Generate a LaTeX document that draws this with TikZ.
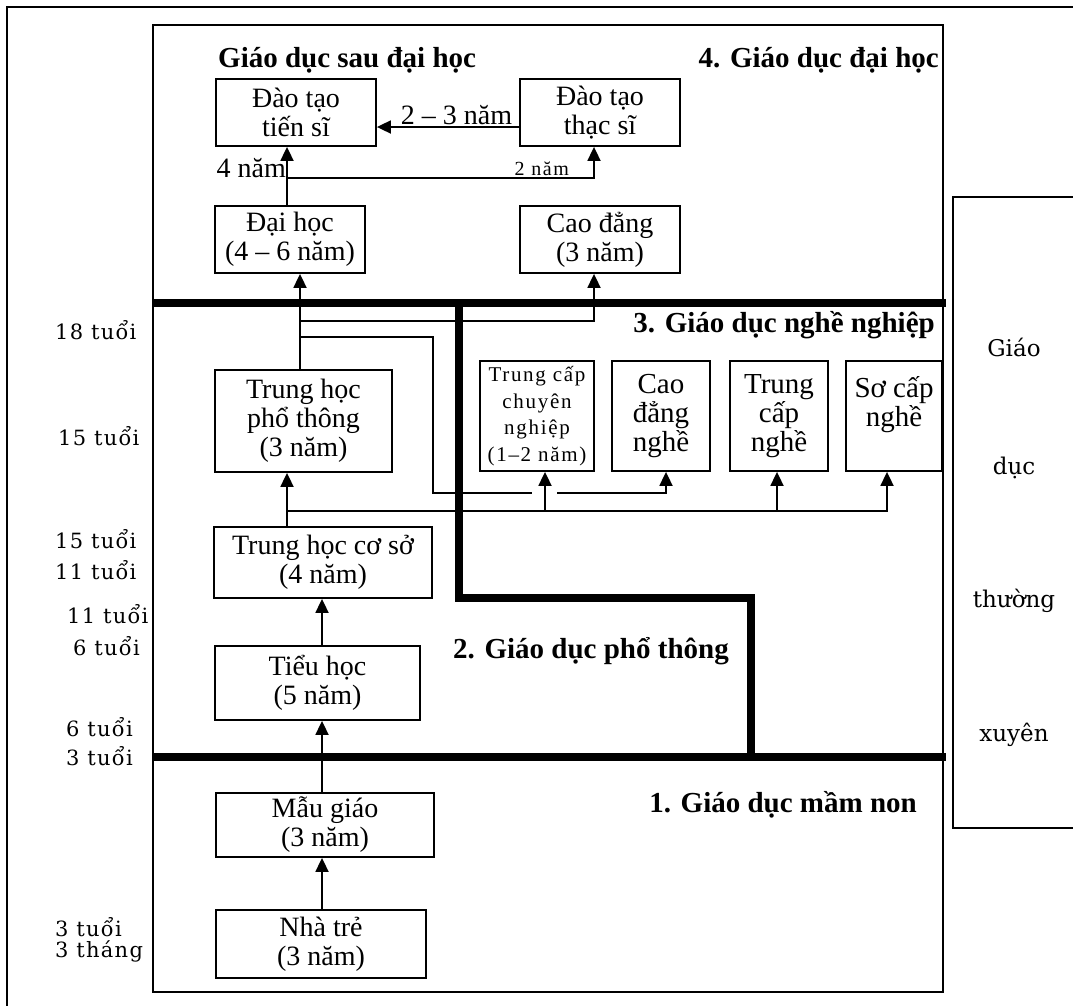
\documentclass[tikz,border=0pt]{standalone}
\usepackage{fontspec}
\setmainfont{Liberation Serif}
\newfontfamily\agefont{DejaVu Serif}[LetterSpace=6]
\newfontfamily\gdfont{DejaVu Serif}
\newfontfamily\spfont{Liberation Serif}[LetterSpace=8]
\usetikzlibrary{arrows.meta}
\begin{document}
\begin{tikzpicture}[x=1pt,y=-1pt,
  box/.style={draw, line width=1.8pt, inner sep=0pt, align=center, font=\fontsize{28}{29}\selectfont},
  vbox/.style={box, minimum height=110pt, font=\fontsize{29}{29}\selectfont},
  thin/.style={line width=1.8pt},
  arr/.style={line width=1.8pt, -{Triangle[length=14pt,width=13pt]}},
  thick/.style={line width=7.5pt, line join=miter},
  head/.style={inner sep=0pt, font=\bfseries\fontsize{29}{30}\selectfont},
  age/.style={inner sep=0pt, anchor=west, font=\agefont\fontsize{21}{22}\selectfont},
  gdtx/.style={inner sep=0pt, font=\gdfont\fontsize{23}{24}\selectfont},
  lbl/.style={inner sep=1pt, font=\fontsize{28}{29}\selectfont}]
\useasboundingbox (0,0) rectangle (1073,1005);
\clip (0,0) rectangle (1073,1005);
% frames
\draw[thin] (7,1010) -- (7,7) -- (1080,7);
\draw[thin] (153,25) rectangle (943,992);
\draw[thin] (1080,197) -- (953,197) -- (953,828) -- (1080,828);
% thick separators
\draw[thick] (153,303) -- (946,303);
\draw[thick] (153,757) -- (946,757);
\draw[thick] (459,303) -- (459,598) -- (751,598) -- (751,757);
% headings
\node[head, anchor=west] (hsdh) at (218,60) {Giáo dục sau đại học};
\node[head, anchor=east] (hdh) at (939,60) {4. Giáo dục đại học};
\node[head, anchor=east] (hnn) at (935,325) {3. Giáo dục nghề nghiệp};
\node[head, anchor=west] (hpt) at (453,651) {2. Giáo dục phổ thông};
\node[head, anchor=east] (hmn) at (917,805) {1. Giáo dục mầm non};
% boxes
\node[box, minimum width=160pt, minimum height=67pt] (tiensi) at (296,112.5) {Đào tạo\\tiến sĩ};
\node[box, minimum width=160pt, minimum height=67pt] (thacsi) at (600,112.5) {Đào tạo\\thạc sĩ};
\node[box, minimum width=150pt, minimum height=67pt] (daihoc) at (290,239.5) {Đại học\\(4 – 6 năm)};
\node[box, minimum width=160pt, minimum height=67pt] (caodang) at (600,239.5) {Cao đẳng\\(3 năm)};
\node[box, minimum width=177pt, minimum height=102pt] (thpt) at (303.5,421) {Trung học\\phổ thông\\(3 năm)};
\node[vbox, minimum width=114pt, font=\spfont\fontsize{21}{26.5}\selectfont] (tccn) at (537,416) {Trung cấp\\chuyên\\nghiệp\\(1–2 năm)};
\node[vbox, minimum width=98pt] (cdn) at (661,416) {Cao\\đẳng\\nghề};
\node[vbox, minimum width=98pt] (tcn) at (779,416) {Trung\\cấp\\nghề};
\node[vbox, minimum width=96pt] (scn) at (894,416) {Sơ cấp\\nghề\\\mbox{}};
\node[box, minimum width=218pt, minimum height=71pt] (thcs) at (323,562.5) {Trung học cơ sở\\(4 năm)};
\node[box, minimum width=205pt, minimum height=74pt] (tieuhoc) at (317.5,683) {Tiểu học\\(5 năm)};
\node[box, minimum width=218pt, minimum height=64pt] (maugiao) at (325,825) {Mẫu giáo\\(3 năm)};
\node[box, minimum width=210pt, minimum height=68pt] (nhatre) at (321,944) {Nhà trẻ\\(3 năm)};
% ages
\node[age] (a18) at (55,330) {18 tuổi};
\node[age] (a15a) at (58,436) {15 tuổi};
\node[age] (a15b) at (55,539) {15 tuổi};
\node[age] (a11a) at (55,570) {11 tuổi};
\node[age] (a11b) at (67,614) {11 tuổi};
\node[age] (a6a) at (73,646) {6 tuổi};
\node[age] (a6b) at (66,727) {6 tuổi};
\node[age] (a3a) at (66,756) {3 tuổi};
\node[age] (a3b) at (55,927) {3 tuổi};
\node[age] (a3t) at (55,951) {3 tháng};
% GDTX
\node[gdtx] (g1) at (1014,347) {Giáo};
\node[gdtx] (g2) at (1014,468) {dục};
\node[gdtx] (g3) at (1014,601) {thường};
\node[gdtx] (g4) at (1014,735) {xuyên};
% junction coordinates
\coordinate (j1) at (287,178);
\coordinate (j2) at (594,178);
\coordinate (k1) at (300,321);
\coordinate (k2) at (594,321);
\coordinate (m1) at (300,337);
\coordinate (m2) at (433,337);
\coordinate (m3) at (433,493);
\coordinate (m4) at (532,493);
\coordinate (m5) at (557,493);
\coordinate (m6) at (666,493);
\coordinate (n1) at (287,511);
\coordinate (n2) at (545,511);
\coordinate (n3) at (777,511);
\coordinate (n4) at (887,511);
\coordinate (p) at (322,0);
% connectors: higher education
\draw[arr] ([yshift=-14.5pt]thacsi.west) -- node[lbl, above, pos=0.44] (l23) {2 – 3 năm} ([yshift=-14.5pt]tiensi.east);
\draw[arr] (daihoc.north -| j1) -- (tiensi.south -| j1);
\draw[arr] (j1) -- node[lbl, above, pos=0.83, font=\spfont\fontsize{20}{22}\selectfont] (l2) {2 năm} (j2) -- (thacsi.south -| j2);
\node[lbl, anchor=south east] (l4) at ([yshift=-1pt]j1) {4 năm};
\draw[arr] (thpt.north -| k1) -- (daihoc.south -| k1);
\draw[arr] (k1) -- (k2) -- (caodang.south -| k2);
% vocational
\draw[thin] (m1) -- (m2) -- (m3) -- (m4);
\draw[arr] (m5) -- (m6) -- (cdn.south -| m6);
\draw[arr] (thcs.north -| n1) -- (thpt.south -| n1);
\draw[arr] (n1) -- (n4) -- (scn.south -| n4);
\draw[arr] (n2) -- (tccn.south -| n2);
\draw[arr] (n3) -- (tcn.south -| n3);
% general and preschool
\draw[arr] (tieuhoc.north -| p) -- (thcs.south -| p);
\draw[arr] (maugiao.north -| p) -- (tieuhoc.south -| p);
\draw[arr] (nhatre.north -| p) -- (maugiao.south -| p);
\end{tikzpicture}
\end{document}
